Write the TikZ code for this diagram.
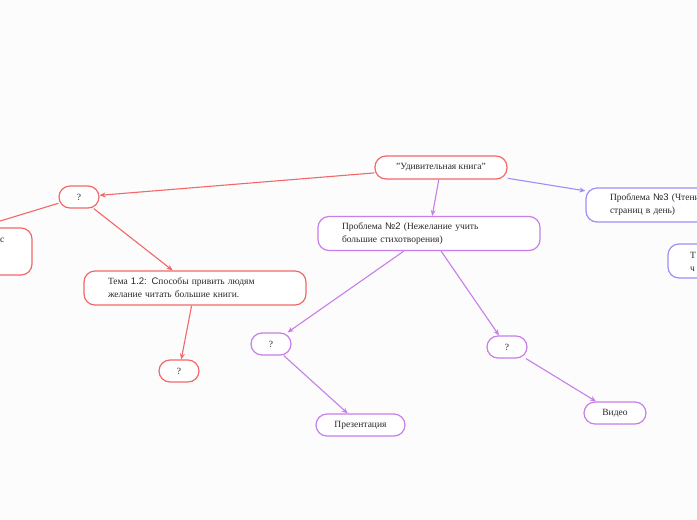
\documentclass[tikz,border=0pt]{standalone}
\usepackage{fontspec}
\setmainfont{Liberation Serif}
\newfontfamily\numfont{Liberation Sans}
\usetikzlibrary{arrows.meta}
\definecolor{bgc}{RGB}{252,252,253}
\definecolor{redc}{RGB}{242,104,104}
\definecolor{purc}{RGB}{199,126,232}
\definecolor{bluc}{RGB}{162,140,245}
\definecolor{txt}{RGB}{40,40,40}
\tikzset{
  box/.style={draw=#1, line width=1.2pt, fill=white, rounded corners=11pt, text=txt,
    font=\fontsize{9.5}{13}\selectfont, inner sep=0pt, align=center},
  wbox/.style={box=#1, align=left, inner xsep=24pt, inner ysep=4pt, minimum height=34pt},
  conn/.style={draw=#1, line width=1.1pt, -{Stealth[length=6pt,width=5pt]}},
  lbl/.style={text=txt, font=\fontsize{9.5}{13}\selectfont, inner sep=0pt, anchor=west}
}
\begin{document}
\begin{tikzpicture}[x=1pt,y=-1pt]
\useasboundingbox (0,0) rectangle (697,520);
\fill[bgc] (0,0) rectangle (697,520);
\clip (0,0) rectangle (697,520);
% nodes
\node[box=redc, minimum width=132pt, minimum height=23pt] (root) at (441,167.5) {"Удивительная книга"};
\node[box=redc, minimum width=40pt, minimum height=22pt] (q1) at (79,197) {?};
\node[box=redc, minimum width=264pt, minimum height=47pt] (lp) at (-100,251.5) {};
\node[lbl] (lpt) at (0,240) {с};
\node[wbox=redc, text width=174pt] (tema) at (195,288) {Тема {\numfont 1.2: С}пособы привить людям\\желание читать большие книги.};
\node[box=redc, minimum width=40pt, minimum height=22pt] (q4) at (179,371) {?};
\node[wbox=purc, text width=174pt] (p2) at (429,233.5) {Проблема {\numfont №2} (Нежелание учить\\большие стихотворения)};
\node[box=purc, minimum width=40pt, minimum height=22pt] (q2) at (271,344) {?};
\node[box=purc, minimum width=89pt, minimum height=22pt] (pres) at (360.5,425) {Презентация};
\node[box=purc, minimum width=40pt, minimum height=22pt] (q3) at (507,347) {?};
\node[box=purc, minimum width=62pt, minimum height=22pt] (vid) at (615,413) {Видео};
\node[wbox=bluc, text width=126pt] (p3) at (673,205) {Проблема {\numfont №3} (Чтение\\страниц в день)};
\node[box=bluc, minimum width=160pt, minimum height=34pt] (rp) at (748,261) {};
\node[lbl, align=left] (rpt) at (690,261.5) {Т\\ч};
% connectors
\draw[conn=redc] (root) -- (q1);
\draw[conn=redc] (q1) -- (lp);
\draw[conn=redc] (q1) -- (tema);
\draw[conn=redc] (tema) -- (q4);
\draw[conn=purc] (root) -- (p2);
\draw[conn=bluc] (root) -- (p3);
\draw[conn=purc] (p2) -- (q2);
\draw[conn=purc] (p2) -- (q3);
\draw[conn=purc] (q2) -- (pres);
\draw[conn=purc] (q3) -- (vid);
\end{tikzpicture}
\end{document}
